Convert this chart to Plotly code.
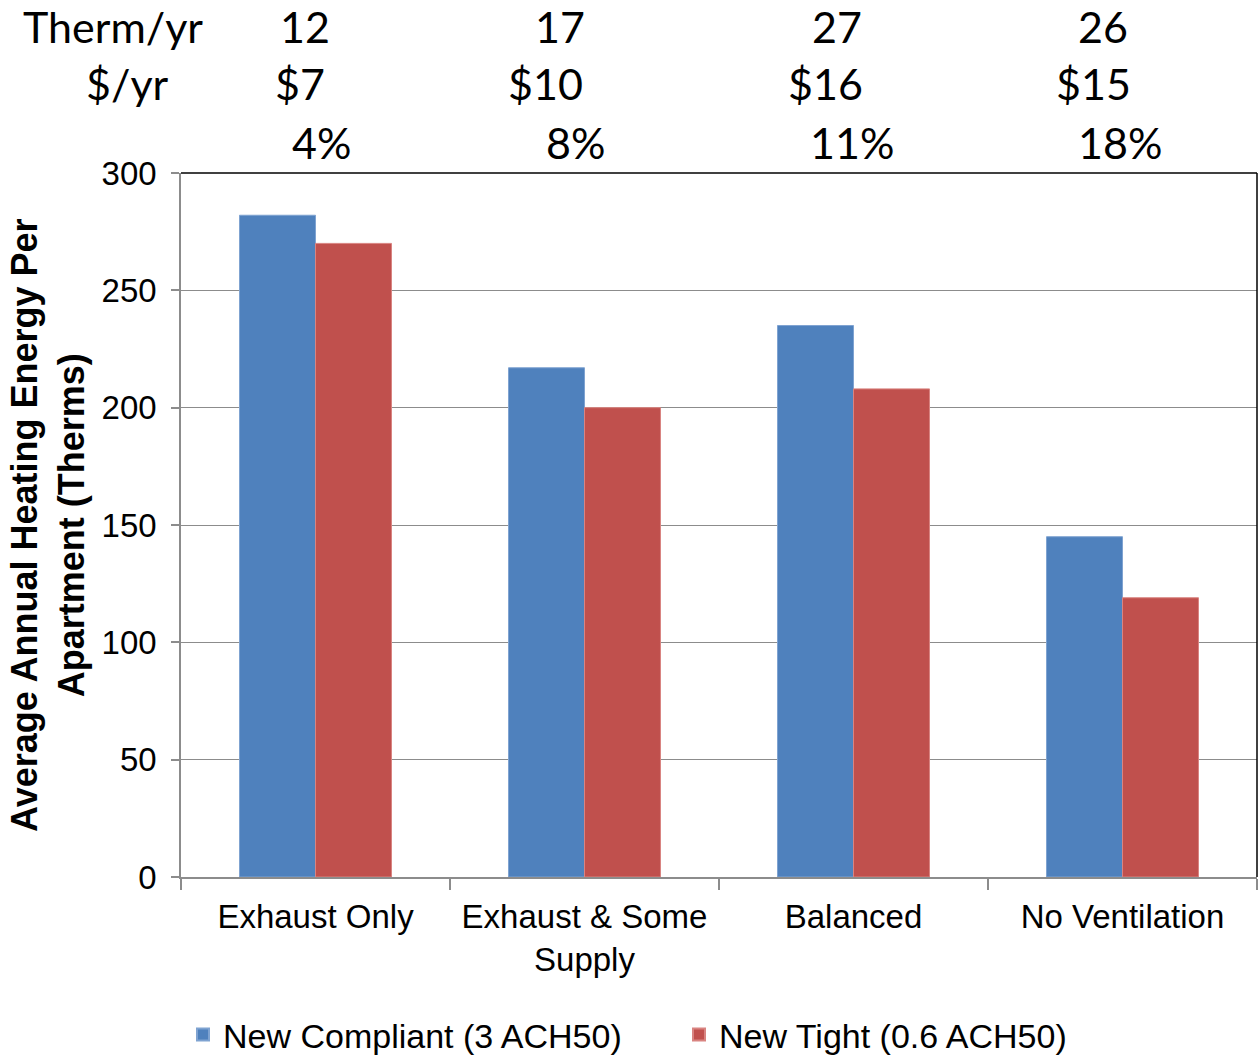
import plotly.graph_objects as go

# Ventilation strategies and average annual heating energy (therms per apartment)
categories = ["Exhaust Only", "Exhaust & Some<br>Supply", "Balanced", "No Ventilation"]
compliant = [282, 217, 235, 145]
tight = [270, 200, 208, 119]

series_names = ["New Compliant (3 ACH50)", "New Tight (0.6 ACH50)"]

# Savings rows shown above the chart
therm_savings = ["12", "17", "27", "26"]
dollar_savings = ["$7", "$10", "$16", "$15"]
pct_savings = ["4%", "8%", "11%", "18%"]

BLUE = "#4F81BD"
RED = "#C0504D"
GRID = "#8C8C8C"
AXIS_FONT = "Liberation Sans, Arial, sans-serif"
TOP_FONT = "Lato, Open Sans, sans-serif"

W, H = 1259, 1055
M_L, M_R, M_T, M_B = 181, 2, 173, 178
plot_w = W - M_L - M_R
plot_h = H - M_T - M_B

fig = go.Figure()
fig.add_trace(go.Bar(x=categories, y=compliant, name=series_names[0],
                     marker=dict(color=BLUE, line=dict(color="#7FA3D1", width=1))))
fig.add_trace(go.Bar(x=categories, y=tight, name=series_names[1],
                     marker=dict(color=RED, line=dict(color="#D98481", width=1))))


def px_to_paper(px):
    return (px - M_L) / plot_w


def py_to_paper(py):
    return 1 + (M_T - py) / plot_h


annotations = []
# row labels
annotations.append(dict(text="Therm/yr", x=px_to_paper(113), y=27))
annotations.append(dict(text="$/yr", x=px_to_paper(127), y=84))
therm_x = [305, 560, 837, 1103]
dollar_x = [300, 545, 825, 1093]
pct_x = [321, 575, 852, 1120]
for i in range(4):
    annotations.append(dict(text=therm_savings[i], x=px_to_paper(therm_x[i]), y=27))
    annotations.append(dict(text=dollar_savings[i], x=px_to_paper(dollar_x[i]), y=84))
    annotations.append(dict(text=pct_savings[i], x=px_to_paper(pct_x[i]), y=143))
for a in annotations:
    a.update(xref="paper", yref="paper", y=py_to_paper(a["y"]),
             xanchor="center", yanchor="middle", showarrow=False,
             font=dict(family=TOP_FONT, size=43, color="#000000"))

# y axis title, drawn as a rotated annotation
annotations.append(dict(
    text="Average Annual Heating Energy Per<br>Apartment (Therms)",
    x=px_to_paper(48), y=0.5, xref="paper", yref="paper",
    xanchor="center", yanchor="middle", textangle=-90, showarrow=False,
    font=dict(family=AXIS_FONT, size=36, color="#000000", weight="bold"),
))

shapes = [
    dict(type="line", xref="paper", yref="paper", x0=0, x1=1, y0=1, y1=1,
         line=dict(color="#000000", width=1.5)),
    dict(type="line", xref="paper", yref="paper", x0=1, x1=1, y0=0, y1=1,
         line=dict(color="#000000", width=1.5)),
]

fig.update_layout(
    width=W, height=H,
    margin=dict(l=M_L, r=M_R, t=M_T, b=M_B, autoexpand=False),
    paper_bgcolor="white", plot_bgcolor="white",
    barmode="group", bargap=0.435, bargroupgap=0,
    showlegend=True,
    legend=dict(orientation="h", x=px_to_paper(183), y=py_to_paper(1035),
                xanchor="left", yanchor="middle",
                font=dict(family=AXIS_FONT, size=34, color="#000000"),
                entrywidth=451, entrywidthmode="pixels", itemsizing="constant"),
    annotations=annotations,
    shapes=shapes,
    xaxis=dict(
        type="category", tickson="boundaries", ticks="outside", ticklen=11,
        tickcolor=GRID, tickwidth=1.5, showline=True, linecolor=GRID, linewidth=1.5,
        showgrid=False, tickfont=dict(family=AXIS_FONT, size=33, color="#000000"),
        ticklabelstandoff=10, automargin=False,
    ),
    yaxis=dict(
        range=[0, 300], dtick=50, ticks="outside", ticklen=8, tickcolor=GRID, tickwidth=1.5,
        showline=True, linecolor=GRID, linewidth=1.5, showgrid=True, gridcolor=GRID,
        gridwidth=1, zeroline=False, ticklabelstandoff=8,
        tickfont=dict(family=AXIS_FONT, size=33, color="#000000"), automargin=False,
    ),
)

fig.write_html("out.html")
